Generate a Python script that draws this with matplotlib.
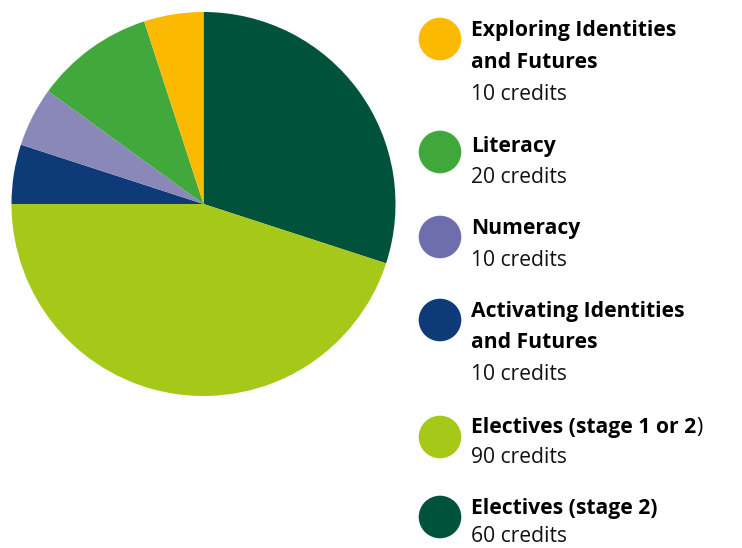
import matplotlib
matplotlib.use("Agg")
import matplotlib.pyplot as plt
from matplotlib.patches import Circle

# Data (clockwise from 12 o'clock)
categories = ["Electives (stage 2)", "Electives (stage 1 or 2)", "Activating Identities and Futures",
              "Numeracy", "Literacy", "Exploring Identities and Futures"]
credits = [60, 90, 10, 10, 20, 10]
slice_colors = ["#00533A", "#A5C819", "#0E3A78", "#8A88B9", "#41A83B", "#FBBA00"]

# Legend (top to bottom)
legend_titles = [["Exploring Identities", "and Futures"], ["Literacy"], ["Numeracy"],
                 ["Activating Identities", "and Futures"], ["Electives (stage 1 or 2"], ["Electives (stage 2)"]]
legend_credits = ["10 credits", "20 credits", "10 credits", "10 credits", "90 credits", "60 credits"]
legend_colors = ["#FBBA00", "#41A83B", "#6E6EAD", "#0E3A78", "#A5C819", "#00533A"]

W, H = 742, 548
fig = plt.figure(figsize=(W / 100, H / 100), dpi=100)
fig.patch.set_facecolor("white")

cx, cy, r = 203.5, 204, 192
ax = fig.add_axes([(cx - r) / W, (H - cy - r) / H, 2 * r / W, 2 * r / H])
ax.pie(credits, colors=slice_colors, startangle=90, counterclock=False,
       wedgeprops=dict(linewidth=0))
ax.set_xlim(-1, 1)
ax.set_ylim(-1, 1)
ax.axis("off")

lax = fig.add_axes([0, 0, 1, 1])
lax.set_xlim(0, W)
lax.set_ylim(H, 0)
lax.axis("off")

circle_y = [39, 152, 237, 320, 437, 517]
title_baselines = [[36, 68], [152], [234], [317, 348], [433], [514]]
credit_baselines = [100, 183, 266, 380, 463, 542]
fs = 15.2
fam = "Open Sans"
for i in range(len(legend_titles)):
    lax.add_patch(Circle((440, circle_y[i]), 21.3, color=legend_colors[i], lw=0))
    last = None
    for line, yb in zip(legend_titles[i], title_baselines[i]):
        last = lax.text(471, yb, line, fontsize=fs, fontweight="bold", family=fam,
                        va="baseline", ha="left", color="black")
    if legend_titles[i][-1].endswith("2"):
        lax.annotate(")", xy=(1, 0), xycoords=last, va="bottom", ha="left",
                     fontsize=fs, family=fam, color="black")
    lax.text(471, credit_baselines[i], legend_credits[i], fontsize=fs, family=fam,
             va="baseline", ha="left", color="#111111")

fig.savefig("out.png", dpi=100)
